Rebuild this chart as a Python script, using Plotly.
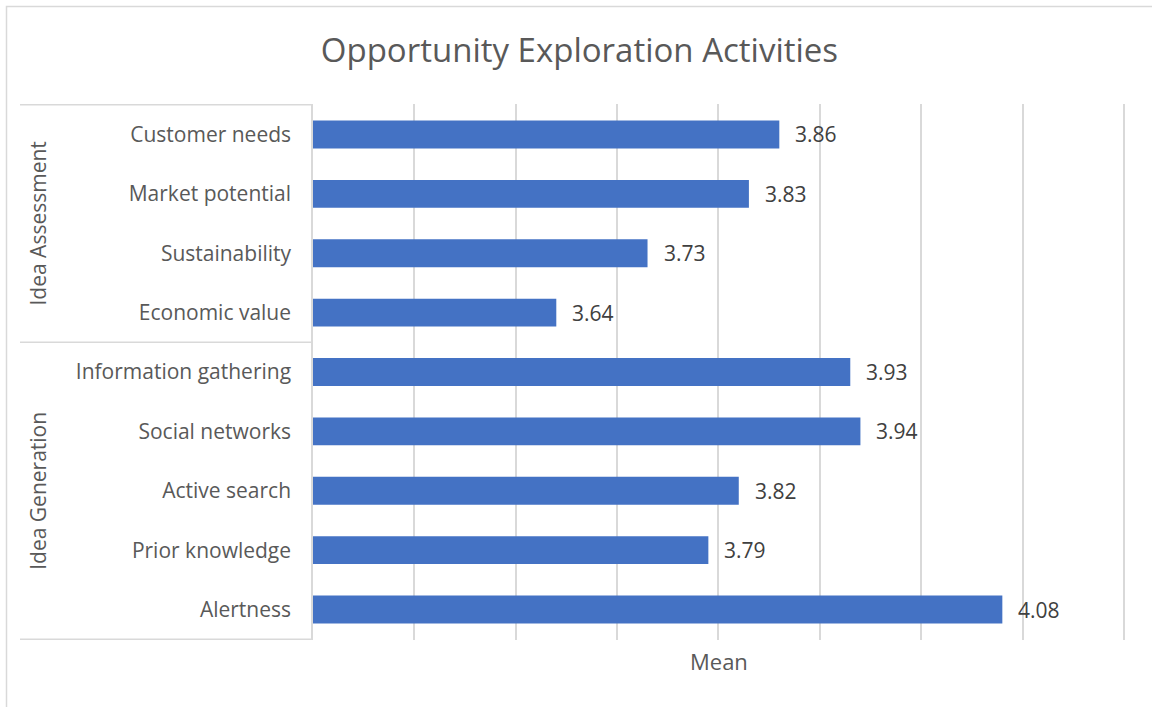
import plotly.graph_objects as go

# Survey means for opportunity exploration activities, listed top to bottom
activities = [
    "Customer needs", "Market potential", "Sustainability", "Economic value",
    "Information gathering", "Social networks", "Active search", "Prior knowledge", "Alertness",
]
means = [3.86, 3.83, 3.73, 3.64, 3.93, 3.94, 3.82, 3.79, 4.08]

# Category groups: name and how many activities (in order) belong to each
group_names = ["Idea Assessment", "Idea Generation"]
group_sizes = [4, 5]

axis_min, axis_max, axis_step = 3.4, 4.2, 0.1

# Canvas and plot-area geometry (pixels)
W, H = 1152, 707
L, R, T, B = 313, 1125, 104, 640

FONT = "Open Sans"
TXT = "#595959"
LINE = "#d9d9d9"


def px_x(px):
    return (px - L) / (R - L)


def px_y(py):
    return (B - py) / (B - T)


fig = go.Figure(
    go.Bar(
        x=means,
        y=activities,
        orientation="h",
        width=0.47,
        marker=dict(color="#4472C4", line=dict(width=0)),
        hoverinfo="x+y",
    )
)

shapes = []
annotations = []

# Value labels just past the end of each bar
for cat, v in zip(activities, means):
    annotations.append(dict(
        text=f"{v:.2f}", x=v, y=cat, xref="x", yref="y",
        xanchor="left", yanchor="middle", xshift=14, showarrow=False,
        font=dict(family=FONT, size=21, color="#404040"),
    ))

# Outer chart border (only its left and top edges fall inside the canvas)
shapes.append(dict(type="rect", xref="paper", yref="paper",
                   x0=px_x(6.5), x1=px_x(W + 20), y0=px_y(H + 20), y1=px_y(6.5),
                   line=dict(color=LINE, width=1.5), fillcolor="rgba(0,0,0,0)", layer="below"))

# Group separators in the category label area, plus rotated group names
start = 0
bounds = [-0.5]
for name, size in zip(group_names, group_sizes):
    end = start + size
    bounds.append(end - 0.5)
    annotations.append(dict(
        text=name, xref="paper", yref="y", x=px_x(38), y=(start + end - 1) / 2,
        textangle=-90, showarrow=False, xanchor="center", yanchor="middle",
        font=dict(family=FONT, size=21, color=TXT),
    ))
    start = end
for b in bounds:
    shapes.append(dict(type="line", xref="paper", yref="y",
                       x0=px_x(20), x1=0, y0=b, y1=b,
                       line=dict(color=LINE, width=1.5)))

# Axis title under the plot area
annotations.append(dict(
    text="Mean", xref="paper", yref="paper", x=0.5, y=px_y(661),
    xanchor="center", yanchor="middle", showarrow=False,
    font=dict(family=FONT, size=22, color=TXT),
))

fig.update_layout(
    width=W, height=H,
    margin=dict(l=L, r=W - R, t=T, b=H - B, pad=0),
    paper_bgcolor="white", plot_bgcolor="white",
    showlegend=False,
    title=dict(text="Opportunity Exploration Activities", x=0.503, xanchor="center",
               y=1 - 50 / H, yanchor="middle", xref="container", yref="container",
               font=dict(family=FONT, size=33, color=TXT)),
    xaxis=dict(range=[axis_min, axis_max + 0.001], dtick=axis_step, tick0=axis_min,
               showticklabels=False, ticks="", showgrid=True, gridcolor=LINE, gridwidth=1.5,
               zeroline=False, showline=False),
    yaxis=dict(categoryorder="array", categoryarray=activities, autorange="reversed",
               showgrid=False, showline=True, linecolor=LINE, linewidth=1.5, ticks="",
               ticklabelstandoff=16,
               tickfont=dict(family=FONT, size=21, color=TXT)),
    shapes=shapes,
    annotations=annotations,
    font=dict(family=FONT, color=TXT),
)

fig.write_html("out.html")
